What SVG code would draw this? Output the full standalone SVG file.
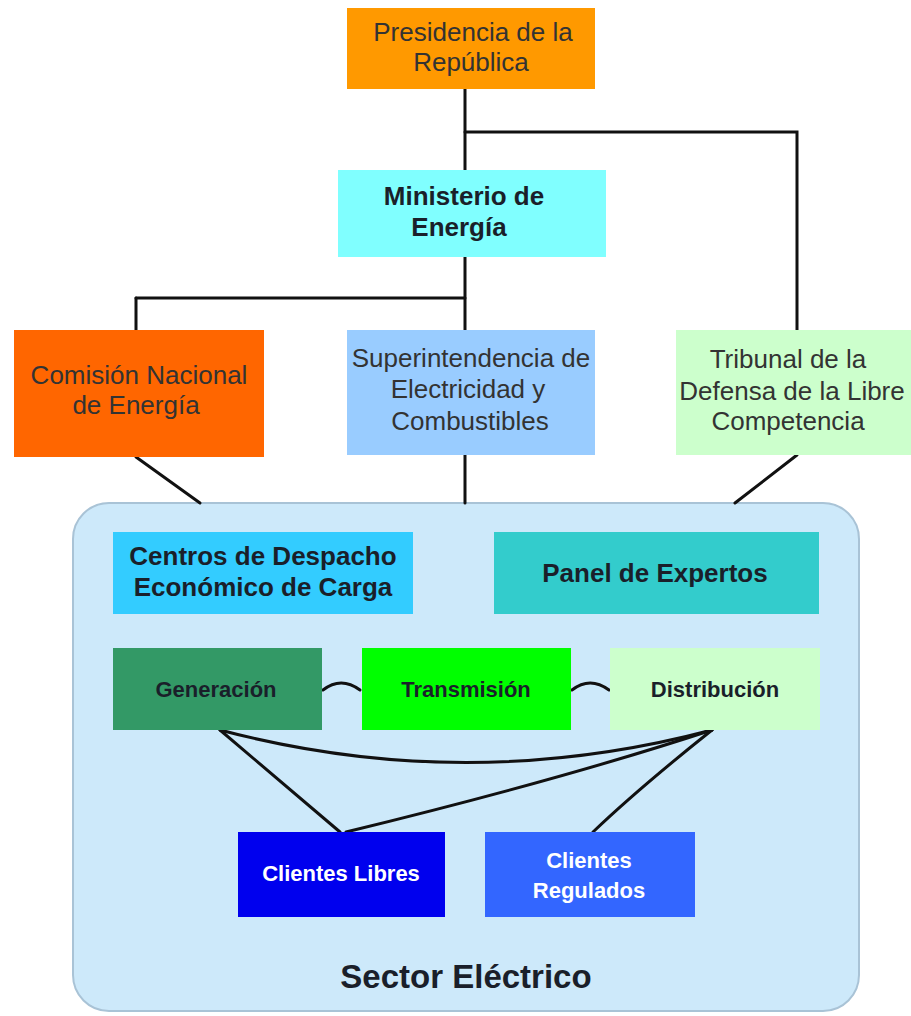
<svg xmlns="http://www.w3.org/2000/svg" width="911" height="1016" viewBox="0 0 911 1016">
<style>
  .t { font-family: "Liberation Sans", Arial, sans-serif; font-size: 26px; fill: #333333; text-anchor: middle; }
  .b { font-family: "Liberation Sans", Arial, sans-serif; font-weight: bold; fill: #1a1f2a; text-anchor: middle; }
  .w { fill: #ffffff; }
  .c { fill: none; stroke: #111111; stroke-width: 3; stroke-linecap: round; }
</style>
<rect width="911" height="1016" fill="#ffffff"/>

<g id="sector-electrico">
  <rect x="73" y="503" width="786" height="508" rx="36" ry="36" fill="#CDE9FA" stroke="#A9C3D6" stroke-width="2"/>
  <text class="b" x="466" y="988" font-size="33">Sector Eléctrico</text>
</g>

<g id="connectors">
  <path class="c" d="M465,88 V170"/>
  <path class="c" d="M465,132 H797 V330"/>
  <path class="c" d="M465,256 V330"/>
  <path class="c" d="M136,298 H465"/>
  <path class="c" d="M136,298 V330"/>
  <path class="c" d="M136,457 L200,503"/>
  <path class="c" d="M465,455 V503"/>
  <path class="c" d="M797,455 L735,503"/>
  <path class="c" d="M323,690 Q341,676 360,690"/>
  <path class="c" d="M572,690 Q590,676 609,690"/>
  <path class="c" d="M220,730 L340,832"/>
  <path class="c" d="M220,730 Q466,795 712,730"/>
  <path class="c" d="M712,730 Q560,780 346,832"/>
  <path class="c" d="M712,730 Q638,789 593,832"/>
</g>

<g id="presidencia">
  <rect x="347" y="8" width="248" height="81" fill="#FF9900"/>
  <text class="t" x="473" y="41">Presidencia de la</text>
  <text class="t" x="471" y="71">República</text>
</g>

<g id="ministerio">
  <rect x="338" y="170" width="268" height="87" fill="#80FFFF"/>
  <text class="b" x="464" y="205" font-size="26">Ministerio de</text>
  <text class="b" x="459" y="236" font-size="26">Energía</text>
</g>

<g id="comision">
  <rect x="14" y="330" width="250" height="127" fill="#FF6600"/>
  <text class="t" x="139" y="384">Comisión Nacional</text>
  <text class="t" x="136" y="414">de Energía</text>
</g>

<g id="superintendencia">
  <rect x="347" y="330" width="248" height="125" fill="#99CCFF"/>
  <text class="t" x="471" y="367">Superintendencia de</text>
  <text class="t" x="468" y="398">Electricidad y</text>
  <text class="t" x="470" y="430">Combustibles</text>
</g>

<g id="tribunal">
  <rect x="676" y="330" width="240" height="125" fill="#CCFFCC"/>
  <text class="t" x="788" y="368">Tribunal de la</text>
  <text class="t" x="792" y="400">Defensa de la Libre</text>
  <text class="t" x="788" y="430">Competencia</text>
</g>

<g id="centros">
  <rect x="113" y="532" width="300" height="82" fill="#33CCFF"/>
  <text class="b" x="263" y="565" font-size="26">Centros de Despacho</text>
  <text class="b" x="263" y="596" font-size="26">Económico de Carga</text>
</g>

<g id="panel">
  <rect x="494" y="532" width="325" height="82" fill="#33CCCC"/>
  <text class="b" x="655" y="582" font-size="26">Panel de Expertos</text>
</g>

<g id="generacion">
  <rect x="113" y="648" width="209" height="82" fill="#339966"/>
  <text class="b" x="216" y="697" font-size="22">Generación</text>
</g>

<g id="transmision">
  <rect x="362" y="648" width="209" height="82" fill="#00FF00"/>
  <text class="b" x="466" y="697" font-size="22">Transmisión</text>
</g>

<g id="distribucion">
  <rect x="610" y="648" width="210" height="82" fill="#CCFFCC"/>
  <text class="b" x="715" y="697" font-size="22">Distribución</text>
</g>

<g id="clientes-libres">
  <rect x="238" y="832" width="207" height="85" fill="#0000EE"/>
  <text class="b w" x="341" y="881" font-size="22">Clientes Libres</text>
</g>

<g id="clientes-regulados">
  <rect x="485" y="832" width="210" height="85" fill="#3366FF"/>
  <text class="b w" x="589" y="868" font-size="22">Clientes</text>
  <text class="b w" x="589" y="898" font-size="22">Regulados</text>
</g>
</svg>
